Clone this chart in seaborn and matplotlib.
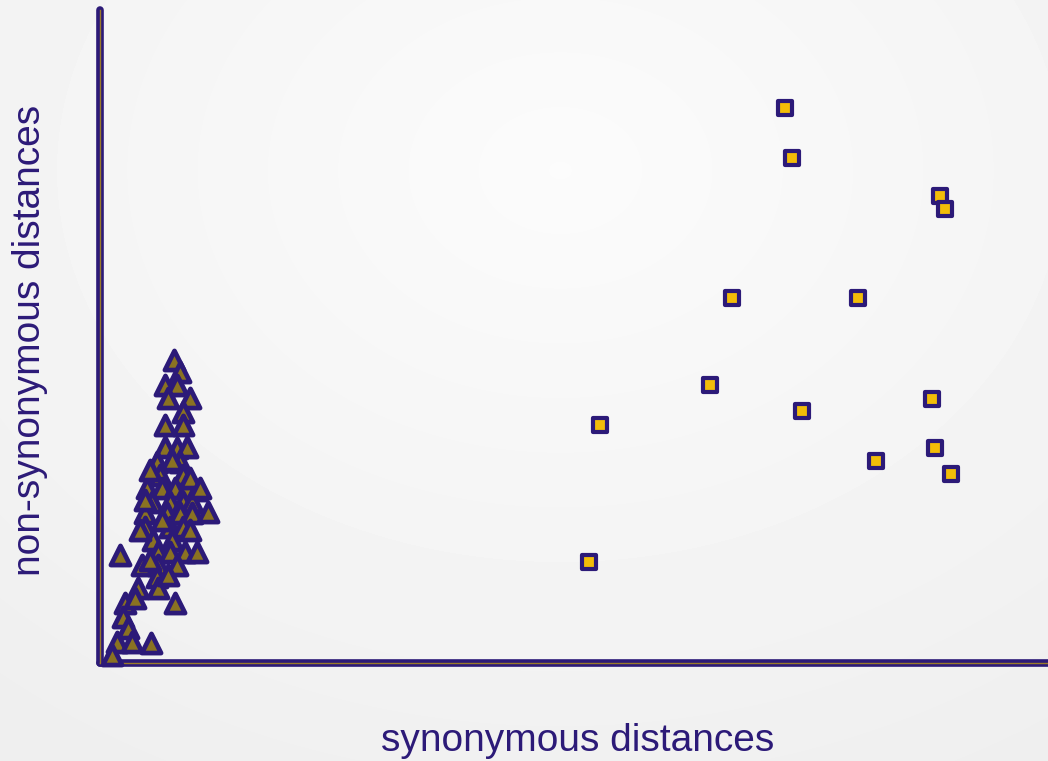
import numpy as np
import pandas as pd
import seaborn as sns
import matplotlib.pyplot as plt

# synonymous (dS) / non-synonymous (dN) distances
tri_ds = [0.157, 0.170, 0.138, 0.164, 0.145, 0.191, 0.177, 0.138, 0.177, 0.138,
          0.164, 0.185, 0.121, 0.170, 0.153, 0.128, 0.177, 0.100, 0.132, 0.160,
          0.185, 0.206, 0.111, 0.149, 0.177, 0.196, 0.096, 0.143, 0.170, 0.196,
          0.230, 0.096, 0.149, 0.177, 0.113, 0.153, 0.123, 0.149, 0.181, 0.206,
          0.043, 0.089, 0.123, 0.164, 0.121, 0.123, 0.081, 0.160, 0.053, 0.049,
          0.060, 0.036, 0.068, 0.109, 0.026, 0.106, 0.191, 0.213, 0.096, 0.132,
          0.191, 0.085, 0.106, 0.145, 0.074]
tri_dn = [0.466, 0.448, 0.428, 0.428, 0.408, 0.408, 0.386, 0.366, 0.366, 0.332,
          0.331, 0.332, 0.309, 0.309, 0.312, 0.289, 0.289, 0.269, 0.269, 0.269,
          0.269, 0.266, 0.248, 0.248, 0.248, 0.248, 0.231, 0.231, 0.231, 0.231,
          0.232, 0.209, 0.209, 0.209, 0.189, 0.189, 0.171, 0.171, 0.171, 0.171,
          0.166, 0.151, 0.151, 0.151, 0.132, 0.115, 0.115, 0.092, 0.092, 0.071,
          0.054, 0.032, 0.032, 0.031, 0.012, 0.297, 0.285, 0.269, 0.251, 0.220,
          0.205, 0.205, 0.158, 0.135, 0.100]

sq_ds = [1.457, 1.472, 1.787, 1.798, 1.345, 1.613, 1.298, 1.494, 1.770, 1.064,
         1.777, 1.651, 1.811, 1.040]
sq_dn = [0.854, 0.777, 0.718, 0.698, 0.562, 0.562, 0.428, 0.388, 0.406, 0.366,
         0.331, 0.311, 0.291, 0.155]

purple = "#2c1a78"
gold_line = "#9a7a2a"

df = pd.DataFrame({
    "dS": tri_ds + sq_ds,
    "dN": tri_dn + sq_dn,
    "group": ["within"] * len(tri_ds) + ["between"] * len(sq_ds),
})

fig = plt.figure(figsize=(10.48, 7.61), dpi=100)

# radial grey background
bg = fig.add_axes([0, 0, 1, 1], zorder=0)
yy, xx = np.mgrid[0:761, 0:1048]
r = np.sqrt(((xx - 560) / 900) ** 2 + ((yy - 170) / 700) ** 2)
shade = 0.985 - 0.05 * np.clip(r, 0, 1)
bg.imshow(shade, cmap="gray", vmin=0, vmax=1, aspect="auto")
bg.axis("off")

ax = fig.add_axes([100 / 1048, 98 / 761, 948 / 1048, 653 / 761], zorder=1)
ax.patch.set_alpha(0)

sns.scatterplot(data=df[df.group == "within"], x="dS", y="dN", marker="^",
                s=190, color="#8a7222", edgecolor=purple, linewidth=3.4,
                ax=ax, legend=False, zorder=3, clip_on=False)
sns.scatterplot(data=df[df.group == "between"], x="dS", y="dN", marker="s",
                s=110, color="#f2bd08", edgecolor=purple, linewidth=3.0,
                ax=ax, legend=False, zorder=3, clip_on=False)

ax.set_xlim(0, 2.017)
ax.set_ylim(0, 1.005)
ax.set_xticks([])
ax.set_yticks([])
ax.set_xlabel("")
ax.set_ylabel("")
for side in ["top", "right"]:
    ax.spines[side].set_visible(False)
for side in ["left", "bottom"]:
    ax.spines[side].set_color(purple)
    ax.spines[side].set_linewidth(5.5)
    ax.spines[side].set_capstyle("round")
ax.axvline(0, color=gold_line, lw=1.0, zorder=2.6, clip_on=False)
ax.axhline(0, color=gold_line, lw=1.0, zorder=2.6, clip_on=False)

fig.text(578 / 1048, 1 - 741 / 761, "synonymous distances", ha="center", va="center",
         fontsize=28, color=purple, family="Liberation Sans")
fig.text(30 / 1048, 1 - 340 / 761, "non-synonymous distances", ha="center", va="center",
         rotation=90, fontsize=28, color=purple, family="Liberation Sans")

fig.savefig("out.png", dpi=100)
